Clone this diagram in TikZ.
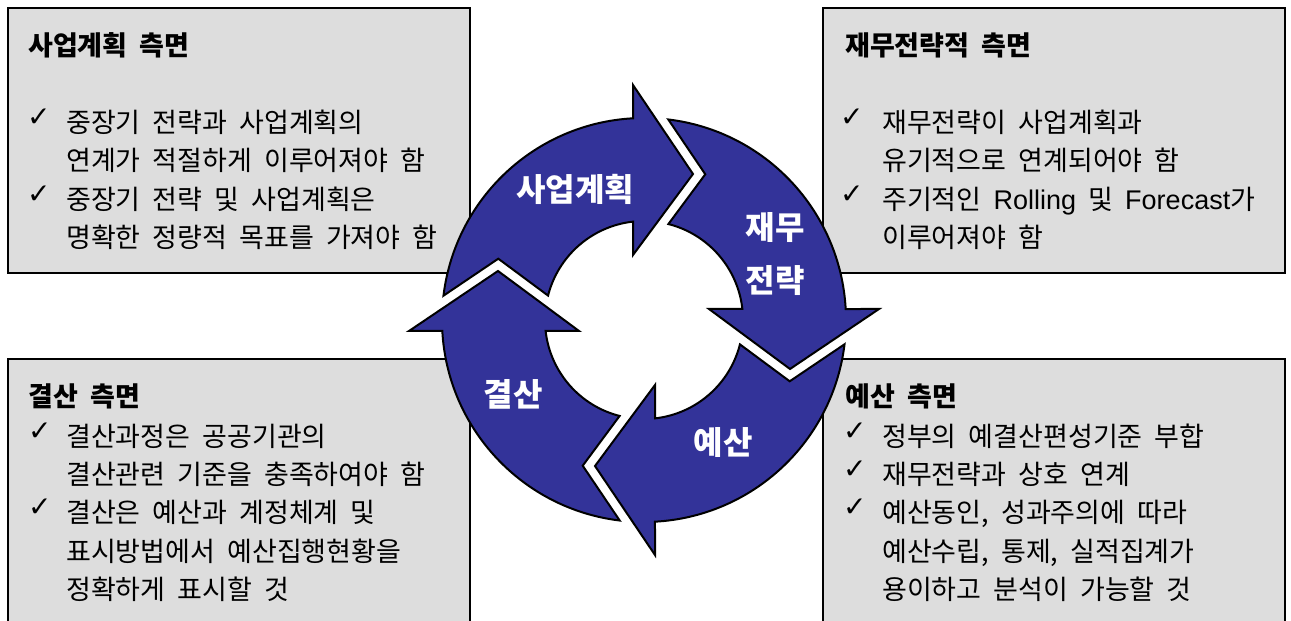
\documentclass[tikz,border=0pt]{standalone}
\usepackage{fontspec}
\newfontfamily\kr[WordSpace=2.0]{Noto Sans CJK KR}
\newfontfamily\lat{Liberation Sans}
\newfontfamily\sym{DejaVu Sans}
\definecolor{boxgray}{HTML}{DDDDDD}
\definecolor{cycblue}{HTML}{333399}
\tikzset{
  panel/.style={fill=boxgray, draw=black, line width=1.6pt},
  cyc/.style={fill=cycblue, draw=black, line width=2pt, line join=miter},
  body/.style={anchor=west, inner sep=0pt, font=\kr\fontsize{27}{27}\selectfont, text height=22pt, text depth=2pt, text=black},
  title/.style={body, font=\kr\bfseries\fontsize{27}{27}\selectfont},
  tick/.style={anchor=west, inner sep=0pt, font=\sym\fontsize{28}{28}\selectfont, text=black},
  cyclabel/.style={inner sep=0pt, font=\kr\bfseries\fontsize{32}{53}\selectfont, text=white, align=center}
}
\newcommand{\cyclearrow}[1]{%
  \begin{scope}[shift={(644,301)}, rotate=#1]
    \path[cyc] (173.09:202) arc[start angle=173.09, end angle=93.12, radius=202]
      -- (-11,235) -- (49,146) -- (-11,65) -- (96.38:99)
      arc[start angle=96.38, end angle=165.73, radius=99]
      -- (-145.7,61.3) -- cycle;
  \end{scope}}
\begin{document}
\begin{tikzpicture}[x=1pt,y=1pt]
\useasboundingbox (0,0) rectangle (1291,621);
\clip (0,0) rectangle (1291,621);
\fill[white] (0,0) rectangle (1291,621);
% panels
\path[panel] (8,348) rectangle (470,613);
\path[panel] (823,348) rectangle (1285,613);
\path[panel] (8,-10) rectangle (470,262);
\path[panel] (823,-10) rectangle (1285,262);
% cycle arrows
\cyclearrow{0}
\cyclearrow{-90}
\cyclearrow{-180}
\cyclearrow{-270}
% cycle labels
\node[cyclabel] (lplan) at (575,432) {사업계획};
\node[cyclabel] (lfin) at (775,367) {재무\\전략};
\node[cyclabel] (lclose) at (513,227) {결산};
\node[cyclabel] (lbud) at (723,178) {예산};
% top-left panel
\node[title] (t1) at (28,575) {사업계획 측면};
\node[tick] (c11) at (27,503) {✓};
\node[body] (a11) at (66,498) {중장기 전략과 사업계획의};
\node[body] (a12) at (66,460) {연계가 적절하게 이루어져야 함};
\node[tick] (c12) at (27,426) {✓};
\node[body] (a13) at (66,421) {중장기 전략 및 사업계획은};
\node[body] (a14) at (66,383) {명확한 정량적 목표를 가져야 함};
% top-right panel
\node[title] (t2) at (845,575) {재무전략적 측면};
\node[tick] (c21) at (840,503) {✓};
\node[body] (a21) at (882,498) {재무전략이 사업계획과};
\node[body] (a22) at (882,460) {유기적으로 연계되어야 함};
\node[tick] (c22) at (840,426) {✓};
\node[body] (a23) at (882,421) {주기적인 {\lat Rolling} 및 {\lat Forecast}가};
\node[body] (a24) at (882,383) {이루어져야 함};
% bottom-left panel
\node[title] (t3) at (28,224) {결산 측면};
\node[tick] (c31) at (28,189) {✓};
\node[body] (a31) at (66,184) {결산과정은 공공기관의};
\node[body] (a32) at (66,146) {결산관련 기준을 충족하여야 함};
\node[tick] (c32) at (28,113) {✓};
\node[body] (a33) at (66,108) {결산은 예산과 계정체계 및};
\node[body] (a34) at (66,69) {표시방법에서 예산집행현황을};
\node[body] (a35) at (66,31) {정확하게 표시할 것};
% bottom-right panel
\node[title] (t4) at (845,224) {예산 측면};
\node[tick] (c41) at (843,189) {✓};
\node[body] (a41) at (882,184) {정부의 예결산편성기준 부합};
\node[tick] (c42) at (843,151) {✓};
\node[body] (a42) at (882,146) {재무전략과 상호 연계};
\node[tick] (c43) at (843,113) {✓};
\node[body] (a43) at (882,108) {예산동인, 성과주의에 따라};
\node[body] (a44) at (882,69) {예산수립, 통제, 실적집계가};
\node[body] (a45) at (882,31) {용이하고 분석이 가능할 것};
\end{tikzpicture}
\end{document}
